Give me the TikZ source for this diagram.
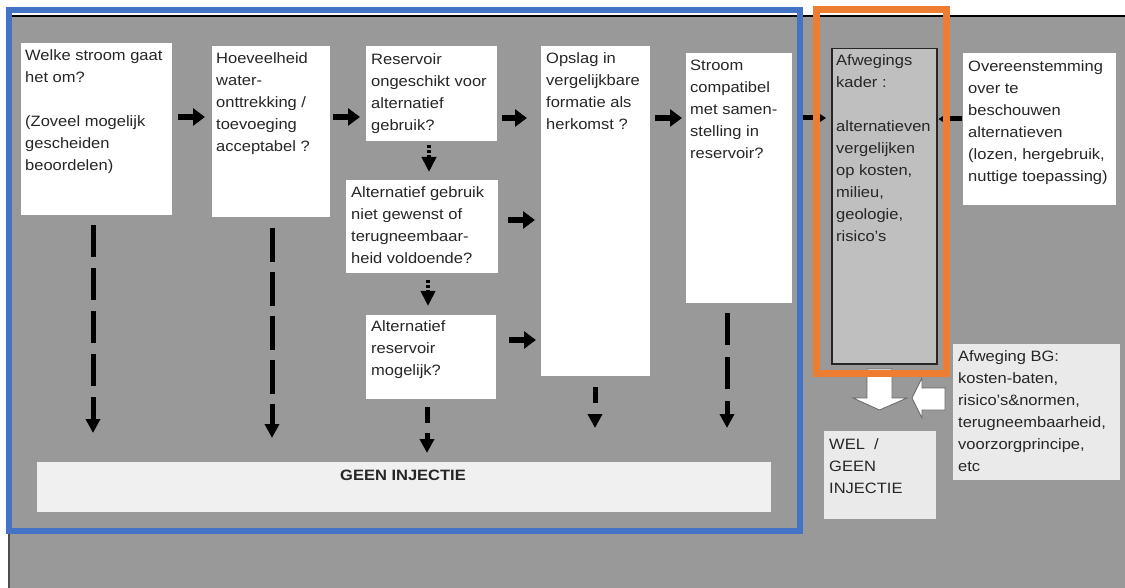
\documentclass[tikz,border=0pt]{standalone}
\usepackage{fontspec}
\setmainfont{Liberation Sans}[FakeStretch=1.1]
\usetikzlibrary{arrows.meta}
\definecolor{bggrey}{RGB}{153,153,153}
\definecolor{frameblue}{RGB}{68,114,196}
\definecolor{frameorange}{RGB}{237,125,49}
\definecolor{afwgrey}{RGB}{191,191,191}
\definecolor{lightbox}{RGB}{234,234,234}
\definecolor{txtcol}{RGB}{38,38,38}
\tikzset{
  whitebox/.style={fill=white, draw=none, inner sep=0pt, anchor=north west},
  lightfill/.style={fill=lightbox, draw=none, inner sep=0pt, anchor=north west},
  afwbox/.style={fill=afwgrey, draw=black!85, line width=1.5pt, inner sep=0pt, anchor=north west},
  txt/.style={anchor=north west, inner sep=0pt, align=left, text=txtcol, font=\fontsize{15}{22}\selectfont},
  harrow/.style={line width=6pt, -{Triangle[width=17pt,length=12pt]}},
  smallharrow/.style={line width=5pt, -{Triangle[width=10pt,length=8pt]}},
  vdash/.style={line width=5pt, -{Triangle[width=14pt,length=14pt]}},
  vdot/.style={line width=4pt, dash pattern=on 3pt off 2pt, -{Triangle[width=14pt,length=15pt]}},
  blockarrow/.style={fill=white, draw=black!60, line width=0.8pt, line join=miter},
}
\begin{document}
\begin{tikzpicture}[x=1pt, y=-1pt]
\useasboundingbox (0,0) rectangle (1125,588);
\fill[white] (0,0) rectangle (1125,588);
\fill[bggrey] (10,17) rectangle (1125,588);
\draw[black, line width=1.5pt] (12,16) -- (1125,16);
\draw[black!70, line width=1.5pt] (9,16) -- (9,588);

% boxes
\node[whitebox, minimum width=151pt, minimum height=172pt] (b1) at (21,43) {};
\node[whitebox, minimum width=118pt, minimum height=171pt] (b2) at (212,46) {};
\node[whitebox, minimum width=131pt, minimum height=95pt] (b3) at (366,46) {};
\node[whitebox, minimum width=152pt, minimum height=93pt] (b4) at (346,180) {};
\node[whitebox, minimum width=130pt, minimum height=84pt] (b5) at (366,315) {};
\node[whitebox, minimum width=109pt, minimum height=330pt] (b6) at (541,46) {};
\node[whitebox, minimum width=106pt, minimum height=250pt] (b7) at (686,53) {};
\node[afwbox, minimum width=105pt, minimum height=315pt] (afw) at (831,48) {};
\node[whitebox, minimum width=153pt, minimum height=152pt] (over) at (963,53) {};
\node[lightfill, minimum width=167pt, minimum height=136pt] (bg) at (953,344) {};
\node[lightfill, minimum width=112pt, minimum height=88pt] (wel) at (824,431) {};
\node[lightfill, fill=lightbox!70!white, minimum width=734pt, minimum height=50pt] (geen) at (37,462) {};

% texts
\node[txt] (t1) at (25,44.6) {\strut Welke stroom gaat\\het om?\\[22pt](Zoveel mogelijk\\gescheiden\\beoordelen)};
\node[txt] (t2) at (216,47.6) {\strut Hoeveelheid\\water-\\onttrekking /\\toevoeging\\acceptabel ?};
\node[txt] (t3) at (371,48.6) {\strut Reservoir\\ongeschikt voor\\alternatief\\gebruik?};
\node[txt] (t4) at (351,181.6) {\strut Alternatief gebruik\\niet gewenst of\\terugneembaar-\\heid voldoende?};
\node[txt] (t5) at (371,315.6) {\strut Alternatief\\reservoir\\mogelijk?};
\node[txt] (t6) at (546,48) {\strut Opslag in\\vergelijkbare\\formatie als\\herkomst ?};
\node[txt] (t7) at (690,54.6) {\strut Stroom\\compatibel\\met samen-\\stelling in\\reservoir?};
\node[txt] (tafw) at (836,49.6) {\strut Afwegings\\kader :\\[22pt]alternatieven\\vergelijken\\op kosten,\\milieu,\\geologie,\\risico's};
\node[txt] (tover) at (968,55.6) {\strut Overeenstemming\\over te\\beschouwen\\alternatieven\\(lozen, hergebruik,\\nuttige toepassing)};
\node[txt] (tbg) at (958,345.6) {\strut Afweging BG:\\kosten-baten,\\risico's\&normen,\\terugneembaarheid,\\voorzorgprincipe,\\etc};
\node[txt] (twel) at (829,433.6) {\strut WEL~~/\\GEEN\\INJECTIE};
\node[txt, anchor=base, font=\fontsize{15}{22}\selectfont\bfseries] (tgeen) at (403,480) {GEEN INJECTIE};

% horizontal arrows
\draw[harrow, shorten <=6pt, shorten >=7pt] (b1.east |- 0,117) -- (b2.west |- 0,117);
\draw[harrow, shorten <=3pt, shorten >=6pt] (b2.east |- 0,117) -- (b3.west |- 0,117);
\draw[harrow, shorten <=5pt, shorten >=14pt] (b3.east |- 0,118) -- (b6.west |- 0,118);
\draw[harrow, shorten <=5pt, shorten >=4pt] (b6.east |- 0,118) -- (b7.west |- 0,118);
\draw[harrow, shorten <=10pt, shorten >=6pt] (b4.east |- 0,220) -- (b6.west |- 0,220);
\draw[harrow, shorten <=13pt, shorten >=5pt] (b5.east |- 0,340) -- (b6.west |- 0,340);
\draw[smallharrow, shorten <=10pt, shorten >=5pt] (b7.east |- 0,118) -- (afw.west |- 0,118);
\draw[smallharrow, shorten <=1pt, shorten >=1pt] (over.west |- 0,119) -- (afw.east |- 0,119);

% vertical dashed arrows
\draw[vdash, dash pattern=on 32pt off 11pt, shorten <=10pt, shorten >=29pt] (b1.south -| 93,0) -- (geen.north -| 93,0);
\draw[vdash, dash pattern=on 34pt off 10pt, shorten <=11pt, shorten >=24pt] (b2.south -| 272,0) -- (geen.north -| 272,0);
\draw[vdash, dash pattern=on 16pt off 10pt, shorten <=8pt, shorten >=9pt] (b5.south -| 427,0) -- (geen.north -| 427,0);
\draw[vdash, dash pattern=on 16pt off 12pt, shorten <=11pt, shorten >=34pt] (b6.south -| 595,0) -- (geen.north -| 595,0);
\draw[vdash, dash pattern=on 32pt off 12pt, shorten <=10pt, shorten >=34pt] (b7.south -| 727,0) -- (geen.north -| 727,0);
\draw[vdot, shorten <=4pt, shorten >=8pt] (b3.south -| 429,0) -- (b4.north -| 429,0);
\draw[vdot, shorten <=7pt, shorten >=9pt] (b4.south -| 428,0) -- (b5.north -| 428,0);

% block arrows
\coordinate (dtop) at (879.5,369);
\coordinate (ltail) at (945,399);
\draw[blockarrow] ([xshift=-12.5pt]dtop) -- ([xshift=12.5pt]dtop) -- (892,398) -- (907,398) -- (879.5,410) -- (853,398) -- (867,398) -- cycle;
\draw[blockarrow] ([yshift=11pt]ltail) -- (922,388) -- (922,378) -- (912,398) -- (922,418) -- (922,410) -- ([yshift=-11pt]ltail) -- cycle;

% frames
\draw[frameblue, line width=6pt] (8.5,10.5) rectangle (799.5,531);
\draw[frameorange, line width=7pt] (816.5,10) rectangle (946,373.5);
\end{tikzpicture}
\end{document}
